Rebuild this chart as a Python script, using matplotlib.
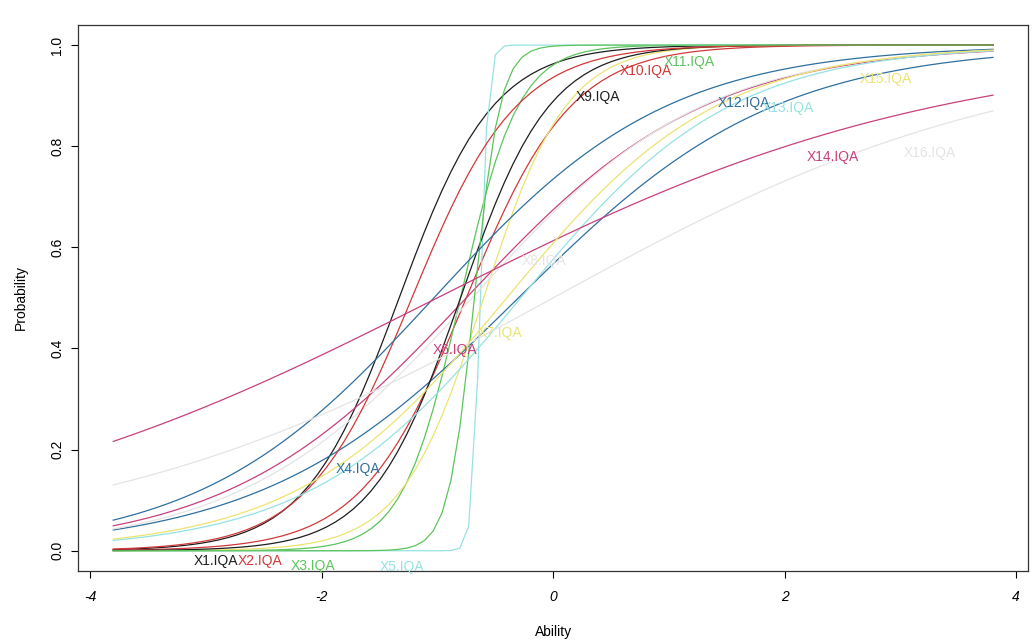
import numpy as np
import matplotlib
matplotlib.use("Agg")
import matplotlib.pyplot as plt

plt.rcParams['font.family'] = ['Liberation Sans', 'DejaVu Sans']

# Item labels (16 items, R default palette recycled)
items = ["X1.IQA", "X2.IQA", "X3.IQA", "X4.IQA", "X5.IQA", "X6.IQA", "X7.IQA", "X8.IQA",
         "X9.IQA", "X10.IQA", "X11.IQA", "X12.IQA", "X13.IQA", "X14.IQA", "X15.IQA", "X16.IQA"]
# Estimated 2PL item parameters
discrimination = [2.45, 2.2, 4.0, 0.9, 30.0, 0.97, 2.8, 1.0,
                  2.6, 2.2, 9.0, 0.99, 1.1, 0.46, 1.1, 0.5]
difficulty = [-1.33, -0.75, -0.8, -0.3, -0.63, -0.75, -0.6, -0.7,
              -0.8, -1.22, -0.68, -1.03, -0.28, -1.0, -0.4, 0.0]
colors = ["#1e1e1e", "#d2383a", "#5cc45c", "#2f6f9f", "#96e2e2", "#c8407c", "#ebe470", "#e4e4e4",
          "#1e1e1e", "#d2383a", "#5cc45c", "#2f6f9f", "#96e2e2", "#c8407c", "#ebe470", "#e4e4e4"]

x_ticks = [-4, -2, 0, 2, 4]
y_ticks = [0.0, 0.2, 0.4, 0.6, 0.8, 1.0]

z = np.linspace(-3.8, 3.8, 100)
label_idx = np.round(np.linspace(10, 90, len(items))).astype(int) - 1

fig = plt.figure(figsize=(10.35, 6.44), dpi=100)
ax = fig.add_axes([0.0754, 0.1134, 0.918, 0.848])

for i, name in enumerate(items):
    p = 1.0 / (1.0 + np.exp(-discrimination[i] * (z - difficulty[i])))
    ax.plot(z, p, color=colors[i], lw=0.9)
    k = label_idx[i]
    ax.annotate(name, (z[k], p[k]), xytext=(0, -7), textcoords='offset points',
                ha='left', va='top', color=colors[i], fontsize=10)

ax.set_xlim(-4.104, 4.104)
ax.set_ylim(-0.04, 1.04)
ax.set_xticks(x_ticks)
ax.set_xticklabels([str(t) for t in x_ticks], fontsize=10, style='italic')
ax.set_yticks(y_ticks)
ax.set_yticklabels(["%.1f" % t for t in y_ticks], fontsize=10, rotation=90, va='center')
ax.tick_params(axis='y', direction='out', length=5, width=0.8, pad=5)
ax.tick_params(axis='x', direction='out', length=5, width=0.8, pad=9)
for s in ax.spines.values():
    s.set_linewidth(0.9)
    s.set_color("#333333")
ax.set_xlabel("Ability", fontsize=10, labelpad=15)
ax.set_ylabel("Probability", fontsize=10, labelpad=16)

fig.savefig("out.png", dpi=100)
